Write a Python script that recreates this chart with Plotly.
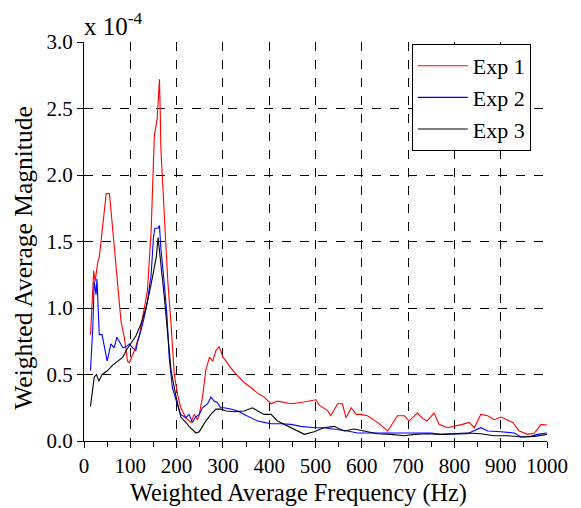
import plotly.graph_objects as go

# Magnitudes in units of 1e-4
exp1_freq = [14, 21, 24, 30, 33, 40, 48, 55, 62, 65, 73, 80, 87, 94, 98, 109, 120, 127, 137, 145,
             152, 158, 163, 165, 166, 173, 177, 181, 188, 195, 202, 209, 220, 231, 238, 245, 249, 256,
             263, 271, 278, 285, 292, 300, 307, 317, 332, 346, 361, 375, 389, 404, 418, 433, 447, 468,
             490, 501, 508, 526, 533, 548, 558, 566, 577, 588, 598, 612, 634, 656, 677, 692, 702, 720,
             731, 741, 756, 767, 785, 799, 817, 832, 843, 857, 872, 886, 901, 926, 940, 958, 973, 987, 1000]
exp1_mag = [0.80, 1.28, 1.20, 1.35, 1.38, 1.63, 1.86, 1.86, 1.58, 1.45, 1.15, 0.90, 0.78, 0.60, 0.59,
            0.68, 0.80, 0.95, 1.13, 1.58, 2.30, 2.42, 2.72, 2.42, 2.20, 1.73, 1.43, 1.20, 0.88, 0.50,
            0.35, 0.25, 0.175, 0.14, 0.20, 0.16, 0.20, 0.33, 0.53, 0.63, 0.60, 0.68, 0.71, 0.63, 0.60,
            0.55, 0.49, 0.44, 0.40, 0.36, 0.33, 0.28, 0.30, 0.29, 0.28, 0.29, 0.30, 0.31, 0.27, 0.23,
            0.19, 0.28, 0.28, 0.175, 0.25, 0.20, 0.20, 0.19, 0.14, 0.075, 0.19, 0.19, 0.15, 0.21, 0.17,
            0.15, 0.21, 0.125, 0.10, 0.11, 0.125, 0.14, 0.10, 0.20, 0.19, 0.16, 0.18, 0.14, 0.075, 0.05,
            0.06, 0.125, 0.12]

exp2_freq = [14, 19, 22, 26, 28, 30, 33, 39, 44, 50, 55, 58, 65, 71, 76, 84, 91, 98, 105, 112, 116,
             123, 130, 137, 145, 150, 153, 160, 163, 166, 173, 179, 184, 191, 202, 209, 220, 227, 234,
             241, 249, 256, 267, 274, 281, 288, 295, 302, 317, 332, 346, 361, 375, 389, 404, 425, 447,
             468, 497, 518, 540, 569, 591, 612, 641, 677, 713, 749, 770, 799, 828, 857, 872, 901, 929,
             944, 965, 979, 1000]
exp2_mag = [0.53, 0.85, 1.20, 1.10, 1.22, 1.00, 0.80, 0.80, 0.70, 0.60, 0.68, 0.73, 0.70, 0.78, 0.75,
            0.70, 0.71, 0.73, 0.70, 0.68, 0.75, 0.83, 0.93, 1.05, 1.25, 1.53, 1.60, 1.60, 1.62, 1.45,
            1.20, 0.95, 0.63, 0.40, 0.27, 0.20, 0.175, 0.20, 0.14, 0.18, 0.20, 0.25, 0.28, 0.33, 0.30,
            0.29, 0.25, 0.25, 0.24, 0.225, 0.20, 0.175, 0.15, 0.14, 0.13, 0.13, 0.125, 0.11, 0.10, 0.10,
            0.09, 0.075, 0.06, 0.06, 0.055, 0.055, 0.06, 0.06, 0.05, 0.055, 0.055, 0.10, 0.075, 0.07,
            0.06, 0.03, 0.035, 0.05, 0.06]

exp3_freq = [14, 19, 22, 27, 32, 39, 51, 62, 73, 84, 91, 101, 112, 123, 134, 145, 156, 160, 166, 173,
             181, 188, 199, 206, 209, 220, 227, 242, 249, 256, 263, 274, 285, 295, 307, 324, 346, 364,
             375, 389, 404, 418, 433, 447, 476, 497, 518, 540, 562, 583, 605, 634, 663, 692, 713, 742,
             770, 799, 828, 857, 886, 915, 944, 973, 1000]
exp3_mag = [0.26, 0.43, 0.48, 0.50, 0.45, 0.50, 0.53, 0.57, 0.60, 0.63, 0.68, 0.73, 0.79, 0.88, 1.00,
            1.18, 1.38, 1.53, 1.35, 1.10, 0.80, 0.53, 0.33, 0.23, 0.18, 0.14, 0.11, 0.06, 0.07, 0.11,
            0.15, 0.20, 0.24, 0.24, 0.225, 0.22, 0.225, 0.25, 0.225, 0.20, 0.20, 0.15, 0.125, 0.10, 0.05,
            0.07, 0.10, 0.11, 0.075, 0.09, 0.075, 0.055, 0.05, 0.04, 0.05, 0.055, 0.05, 0.055, 0.06,
            0.055, 0.04, 0.04, 0.03, 0.035, 0.05]

series_names = ["Exp 1", "Exp 2", "Exp 3"]
series_colors = ["#ff0000", "#0000ff", "#000000"]

x_tick_vals = [0, 100, 200, 300, 400, 500, 600, 700, 800, 900, 1000]
y_tick_vals = [0.0, 0.5, 1.0, 1.5, 2.0, 2.5, 3.0]

x_title = "Weighted Average Frequency (Hz)"
y_title = "Weighted Average Magnitude"
scale_note = "x 10<sup>-4</sup>"

FONT = "Liberation Serif, Times New Roman, serif"

fig = go.Figure()
for name, fx, my, col in zip(series_names, [exp1_freq, exp2_freq, exp3_freq],
                             [exp1_mag, exp2_mag, exp3_mag], series_colors):
    fig.add_trace(go.Scatter(x=fx, y=my, mode="lines", name=name,
                             line=dict(color=col, width=1.1)))

fig.update_layout(
    width=573, height=500,
    margin=dict(l=76, r=34, t=34, b=67),
    paper_bgcolor="white", plot_bgcolor="white",
    font=dict(family=FONT, size=21, color="black"),
    showlegend=True,
    legend=dict(x=0.708, y=0.995, xanchor="left", yanchor="top",
                bgcolor="white", bordercolor="black", borderwidth=1,
                font=dict(family=FONT, size=22, color="black"),
                tracegroupgap=0, itemwidth=50),
    annotations=[
        dict(text=scale_note, xref="paper", yref="paper",
             x=-0.005, y=1.0, xanchor="left", yanchor="bottom",
             showarrow=False, font=dict(family=FONT, size=25, color="black")),
        dict(text=x_title, xref="paper", yref="paper",
             x=0.464, y=-0.130, xanchor="center", yanchor="middle",
             showarrow=False, font=dict(family=FONT, size=24.3, color="black")),
        dict(text=y_title, xref="paper", yref="paper", textangle=-90,
             x=-0.13, y=0.459, xanchor="center", yanchor="middle",
             showarrow=False, font=dict(family=FONT, size=25.5, color="black")),
    ],
)
fig.update_xaxes(
    range=[0, 1000], tickvals=x_tick_vals, showgrid=True, automargin=False,
    gridcolor="black", griddash="dash", gridwidth=1,
    showline=True, linecolor="black", linewidth=1, mirror=False,
    ticks="outside", ticklen=6, tickcolor="black",
    minor=dict(dtick=50, ticks="outside", ticklen=5, tickcolor="black", showgrid=False),
    zeroline=False,
)
fig.update_yaxes(
    range=[0, 3.0], tickvals=y_tick_vals, tickformat=".1f", showgrid=True, automargin=False,
    gridcolor="black", griddash="dash", gridwidth=1,
    showline=True, linecolor="black", linewidth=1, mirror=False,
    ticks="outside", ticklen=6, tickcolor="black",
    zeroline=False,
)

fig.write_html("out.html")
